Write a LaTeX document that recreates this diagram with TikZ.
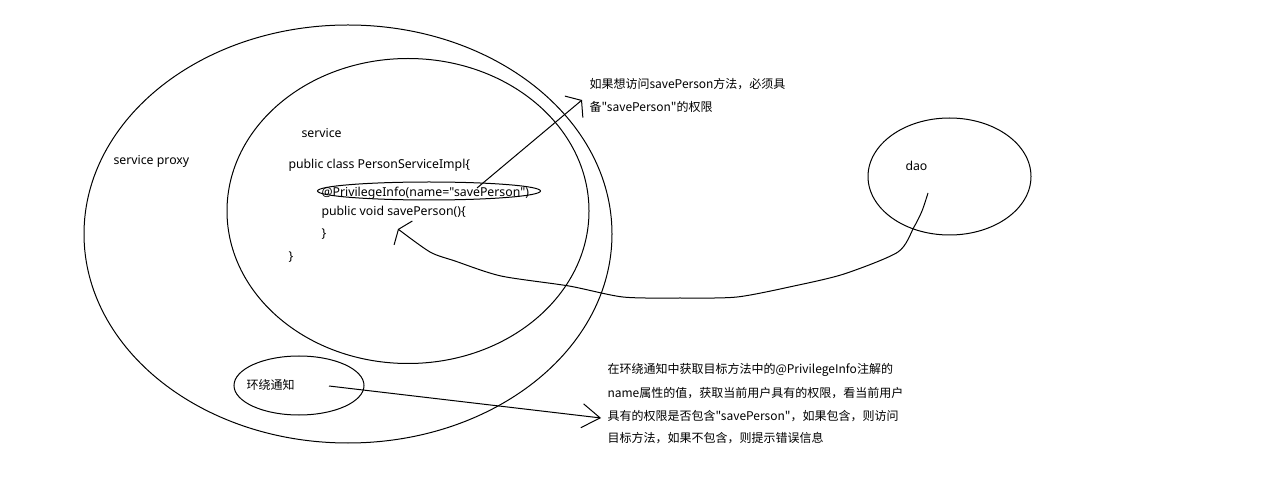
\documentclass[tikz,border=0pt]{standalone}
\usepackage{fontspec}
\setmainfont{Noto Sans CJK SC}[Ligatures=TeXOff]
\newfontfamily\latinf{Noto Sans}[Ligatures=TeXOff]
\usetikzlibrary{arrows.meta,shapes.geometric}
\begin{document}
\begin{tikzpicture}[x=1pt,y=-1pt,line width=1pt,
  lbl/.style={inner sep=0pt,anchor=west,font=\fontsize{12}{14}\selectfont},
  code/.style={lbl,font=\latinf\fontsize{12.3}{14}\selectfont},
  oval/.style={draw,ellipse,inner sep=0pt,anchor=center},
  barbA/.style={-{Straight Barb[length=10pt,width=28pt,line width=1pt]}},
  barbB/.style={-{Straight Barb[length=6pt,width=30pt,line width=1pt]}},
  barbC/.style={-{Straight Barb[length=18pt,width=24pt,line width=1pt]}}]
\useasboundingbox[fill=white] (0,0) rectangle (1274,502);
% ellipses
\node[oval,minimum width=528pt,minimum height=418pt] (proxy) at (348,234) {};
\node[oval,minimum width=362pt,minimum height=305pt] (service) at (408,211) {};
\node[oval,minimum width=163pt,minimum height=117pt] (dao) at (949.5,176.5) {};
\node[oval,minimum width=130pt,minimum height=59pt] (around) at (299,385.5) {};
\node[oval,minimum width=223pt,minimum height=18pt] (anno) at (429,191) {};
% texts
\node[code] (proxylbl) at (113,161) {service proxy};
\node[code] (servicelbl) at (301,133) {service};
\node[code] (cls) at (288,165) {public class PersonServiceImpl\{};
\node[code] (annolbl) at (321,193) {@PrivilegeInfo(name="savePerson")};
\node[code] (meth) at (321,212) {public void savePerson()\{};
\node[code] (close1) at (321,234) {\}};
\node[code] (close2) at (288,257) {\}};
\node[code] (daolbl) at (905,166) {dao};
\node[lbl] (aroundlbl) at (246,385) {环绕通知};
\node[lbl] (n1) at (589,84) {如果想访问savePerson方法，必须具};
\node[lbl] (n2) at (589,107) {备"savePerson"的权限};
\node[lbl] (m1) at (607,370) {在环绕通知中获取目标方法中的@PrivilegeInfo注解的};
\node[lbl] (m2) at (607,393) {name属性的值，获取当前用户具有的权限，看当前用户};
\node[lbl] (m3) at (607,416) {具有的权限是否包含"savePerson"，如果包含，则访问};
\node[lbl] (m4) at (607,438) {目标方法，如果不包含，则提示错误信息};
% connector points
\coordinate (annopt) at (477,188);
\coordinate (n1tip) at (582,100);
\coordinate (daopt) at (928,193);
\coordinate (methtip) at (398,229);
\coordinate (aroundpt) at (329,386);
\coordinate (m3tip) at (601,418);
% connectors
\draw[barbA] (annopt) -- (n1tip);
\draw[barbB] plot[smooth,tension=0.45] coordinates {(daopt) (922,211) (914,227) (898,252) (844,274) (794,286) (737,297) (680,298) (623,297) (569,286) (501,276) (455,261) (430,252) (methtip)};
\draw[barbC] (aroundpt) -- (m3tip);
\end{tikzpicture}
\end{document}
